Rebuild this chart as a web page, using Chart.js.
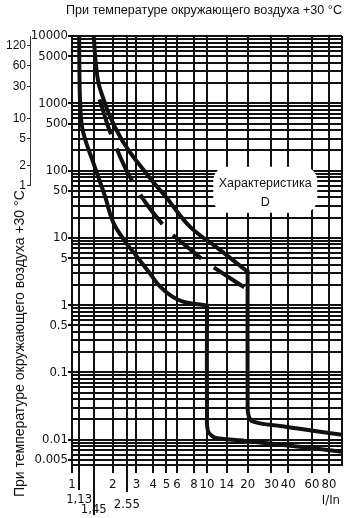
<!DOCTYPE html>
<html>
<head>
<meta charset="utf-8">
<script src="https://cdn.jsdelivr.net/npm/chart.js@4.4.1/dist/chart.umd.min.js"></script>
<style>
  html, body { margin: 0; padding: 0; background: #fff; }
  #wrap { width: 350px; height: 518px; }
</style>
</head>
<body>
<div id="wrap"><canvas id="chart"></canvas></div>
<script>
const TITLE = 'При температуре окружающего воздуха +30 °С';
const CHAR_LABEL = ['Характеристика', 'D'];
const X_UNIT = 'I/In';

// x axis: multiples of rated current
const xTickValues = [1, 1.13, 1.45, 2, 2.55, 3, 4, 5, 6, 8, 10, 14, 20, 30, 40, 60, 80, 100];
const xTickLabels = ['1', '1,13', '1,45', '2', '2.55', '3', '4', '5', '6', '8', '10', '14', '20', '30', '40', '60', '80', ''];

// y axis: seconds
const yLabelValues = [10000, 5000, 1000, 500, 100, 50, 10, 5, 1, 0.5, 0.1, 0.01, 0.005];
const yLabelTexts = ['10000', '5000', '1000', '500', '100', '50', '10', '5', '1', '0.5', '0.1', '0.01', '0.005'];
const yGridMantissas = [1, 2, 3, 4, 5, 6, 7, 8, 9];
const yGridDecades = [-3, -2, -1, 0, 1, 2, 3, 4];

// left auxiliary scale: minutes
const minuteTicks = [1, 2, 5, 10, 30, 60, 120];

// lower boundary curve
const lowerX = [1.13, 1.135, 1.15, 1.2, 1.44, 1.76, 2.02, 2.5, 3.02, 3.78, 4.48, 5.5, 6.63, 8.5, 9.8, 10, 10, 10, 10.15, 11, 12, 20, 50, 100];
const lowerY = [10000, 3000, 1000, 400, 130, 41, 17, 8.6, 5.3, 2.95, 1.9, 1.35, 1.13, 1.03, 1.0, 1.0, 0.9, 0.025, 0.0135, 0.0112, 0.0105, 0.0095, 0.0078, 0.0066];

// dashed middle curve
const middleX = [1.6, 1.97, 2.84, 4.72, 7.86, 10.5, 20];
const middleY = [1150, 324, 66, 15.7, 6.25, 4.0, 1.7];

// upper boundary curve
const upperX = [1.45, 1.5, 1.62, 2.27, 3.66, 5, 7.47, 12.4, 19.6, 20, 20, 20, 20.3, 22, 36, 50, 100];
const upperY = [10000, 4000, 1600, 320, 84, 40, 14.7, 6.7, 3.25, 3.2, 2.9, 0.035, 0.023, 0.0185, 0.0158, 0.0144, 0.0118];

const Y_MIN = 0.0042, Y_MAX = 10000;
const INK = '#111';
const NARROW = "'Liberation Sans Narrow', 'DejaVu Sans Condensed', sans-serif";
const REGULAR = "'Liberation Sans', Arial, sans-serif";

const yGridValues = yGridDecades
  .flatMap(d => yGridMantissas.map(m => parseFloat((m * Math.pow(10, d)).toPrecision(6))))
  .filter(v => v >= Y_MIN && v <= Y_MAX)
  .sort((a, b) => a - b);

function yLabelFor(v) {
  const i = yLabelValues.findIndex(l => Math.abs(v - l) / l < 1e-6);
  return i < 0 ? '' : yLabelTexts[i];
}

const lowered = { '1,13': 15.3, '2.55': 18.7, '1,45': 21.7 };
const longTicks = { 1.13: 25, 2.55: 27, 1.45: 50 };

const toPoints = (xs, ys) => xs.map((x, i) => ({ x, y: ys[i] }));

const extras = {
  id: 'extras',
  beforeDatasetsDraw(chart) {
    const { ctx, scales } = chart;
    const cx = scales.x.getPixelForValue(27);
    const cy = scales.y.getPixelForValue(52);
    ctx.save();
    ctx.fillStyle = '#fff';
    ctx.beginPath();
    ctx.roundRect(cx - 52, cy - 23, 104, 46, 14);
    ctx.fill();
    ctx.fillStyle = INK;
    ctx.font = '12.5px ' + REGULAR;
    ctx.textAlign = 'center';
    ctx.textBaseline = 'middle';
    ctx.fillText(CHAR_LABEL[0], cx, cy - 6);
    ctx.fillText(CHAR_LABEL[1], cx, cy + 13);
    ctx.restore();
  },
  afterDraw(chart) {
    const { ctx, scales, chartArea } = chart;
    ctx.save();
    ctx.strokeStyle = INK;
    ctx.lineWidth = 2;
    Object.keys(longTicks).forEach(k => {
      const px = Math.round(scales.x.getPixelForValue(parseFloat(k)) - 1) + 1;
      ctx.beginPath();
      ctx.moveTo(px, chartArea.bottom);
      ctx.lineTo(px, chartArea.bottom + longTicks[k]);
      ctx.stroke();
    });
    // minutes axis line
    const s2 = chart.scales.y2;
    ctx.lineWidth = 1;
    ctx.strokeStyle = '#333';
    ctx.beginPath();
    ctx.moveTo(Math.round(s2.right) - 0.5, chartArea.top);
    ctx.lineTo(Math.round(s2.right) - 0.5, s2.getPixelForValue(minuteTicks[0] * 60) + 0.5);
    ctx.stroke();
    // unit label
    ctx.fillStyle = INK;
    ctx.font = '13px ' + NARROW;
    ctx.textAlign = 'right';
    ctx.textBaseline = 'middle';
    ctx.fillText(X_UNIT, scales.x.getPixelForValue(100) - 2, chartArea.bottom + 36);
    // rotated axis title
    ctx.font = '14px ' + REGULAR;
    ctx.textAlign = 'left';
    ctx.textBaseline = 'alphabetic';
    ctx.translate(24, chartArea.bottom + 32);
    ctx.rotate(-Math.PI / 2);
    ctx.fillText(TITLE, 0, 0);
    ctx.restore();
  }
};

const curveStyle = { showLine: true, pointRadius: 0, borderColor: INK, borderWidth: 4, tension: 0.4, fill: false };

new Chart(document.getElementById('chart'), {
  type: 'scatter',
  data: {
    datasets: [
      { ...curveStyle, data: toPoints(lowerX, lowerY) },
      { ...curveStyle, data: toPoints(middleX, middleY), borderDash: [37, 15] },
      { ...curveStyle, data: toPoints(upperX, upperY) },
    ],
  },
  options: {
    responsive: true, maintainAspectRatio: false, animation: false,
    layout: { padding: { left: 0, right: 8, top: 0, bottom: 0 } },
    plugins: {
      legend: { display: false },
      tooltip: { enabled: false },
      title: {
        display: true, text: TITLE, align: 'end', color: INK,
        font: { family: REGULAR, size: 12.6, weight: 'normal', lineHeight: 1.2 },
        padding: { top: 3, bottom: 18 },
      },
    },
    scales: {
      x: {
        type: 'logarithmic', min: 1, max: 100,
        afterBuildTicks: (s) => { s.ticks = xTickValues.map(v => ({ value: v })); },
        afterFit: (s) => { s.height = 53; },
        grid: {
          color: INK, lineWidth: 2, tickLength: 8,
          tickColor: (c) => (c.tick && c.tick.value === 100 ? 'rgba(0,0,0,0)' : INK),
        },
        border: { display: true, color: INK, width: 2 },
        ticks: {
          autoSkip: false, maxRotation: 0, minRotation: 0, padding: 4, color: INK,
          font: (c) => {
            const lbl = c.tick ? xTickLabels[xTickValues.indexOf(c.tick.value)] : '';
            return { family: NARROW, size: 13, lineHeight: (lowered[lbl] || 15.6) + 'px' };
          },
          callback: (v) => {
            const lbl = xTickLabels[xTickValues.indexOf(v)];
            if (lbl === undefined) return '';
            return lowered[lbl] ? ['', lbl] : lbl;
          },
        },
      },
      y: {
        type: 'logarithmic', position: 'left', min: Y_MIN, max: Y_MAX, weight: 0,
        afterBuildTicks: (s) => { s.ticks = yGridValues.map(v => ({ value: v })); },
        afterFit: (s) => { s.width = 41; },
        grid: {
          color: INK, lineWidth: 2, tickLength: 4,
          tickColor: (c) => (c.tick && yLabelFor(c.tick.value) ? INK : 'rgba(0,0,0,0)'),
        },
        border: { display: true, color: INK, width: 2 },
        ticks: {
          autoSkip: false, padding: 0, color: INK,
          font: { family: NARROW, size: 13 },
          callback: (v) => yLabelFor(v),
        },
      },
      y2: {
        type: 'logarithmic', position: 'left', min: Y_MIN, max: Y_MAX, weight: 1,
        afterBuildTicks: (s) => { s.ticks = minuteTicks.map(m => ({ value: m * 60 })); },
        afterFit: (s) => { s.width = 31; },
        grid: { drawOnChartArea: false, tickLength: 4, color: '#333', lineWidth: 1 },
        border: { display: false },
        ticks: {
          autoSkip: false, padding: 1, color: INK,
          font: { family: REGULAR, size: 12 },
          callback: (v) => String(Math.round(v / 60)),
        },
      },
    },
  },
  plugins: [extras],
});
</script>
</body>
</html>
